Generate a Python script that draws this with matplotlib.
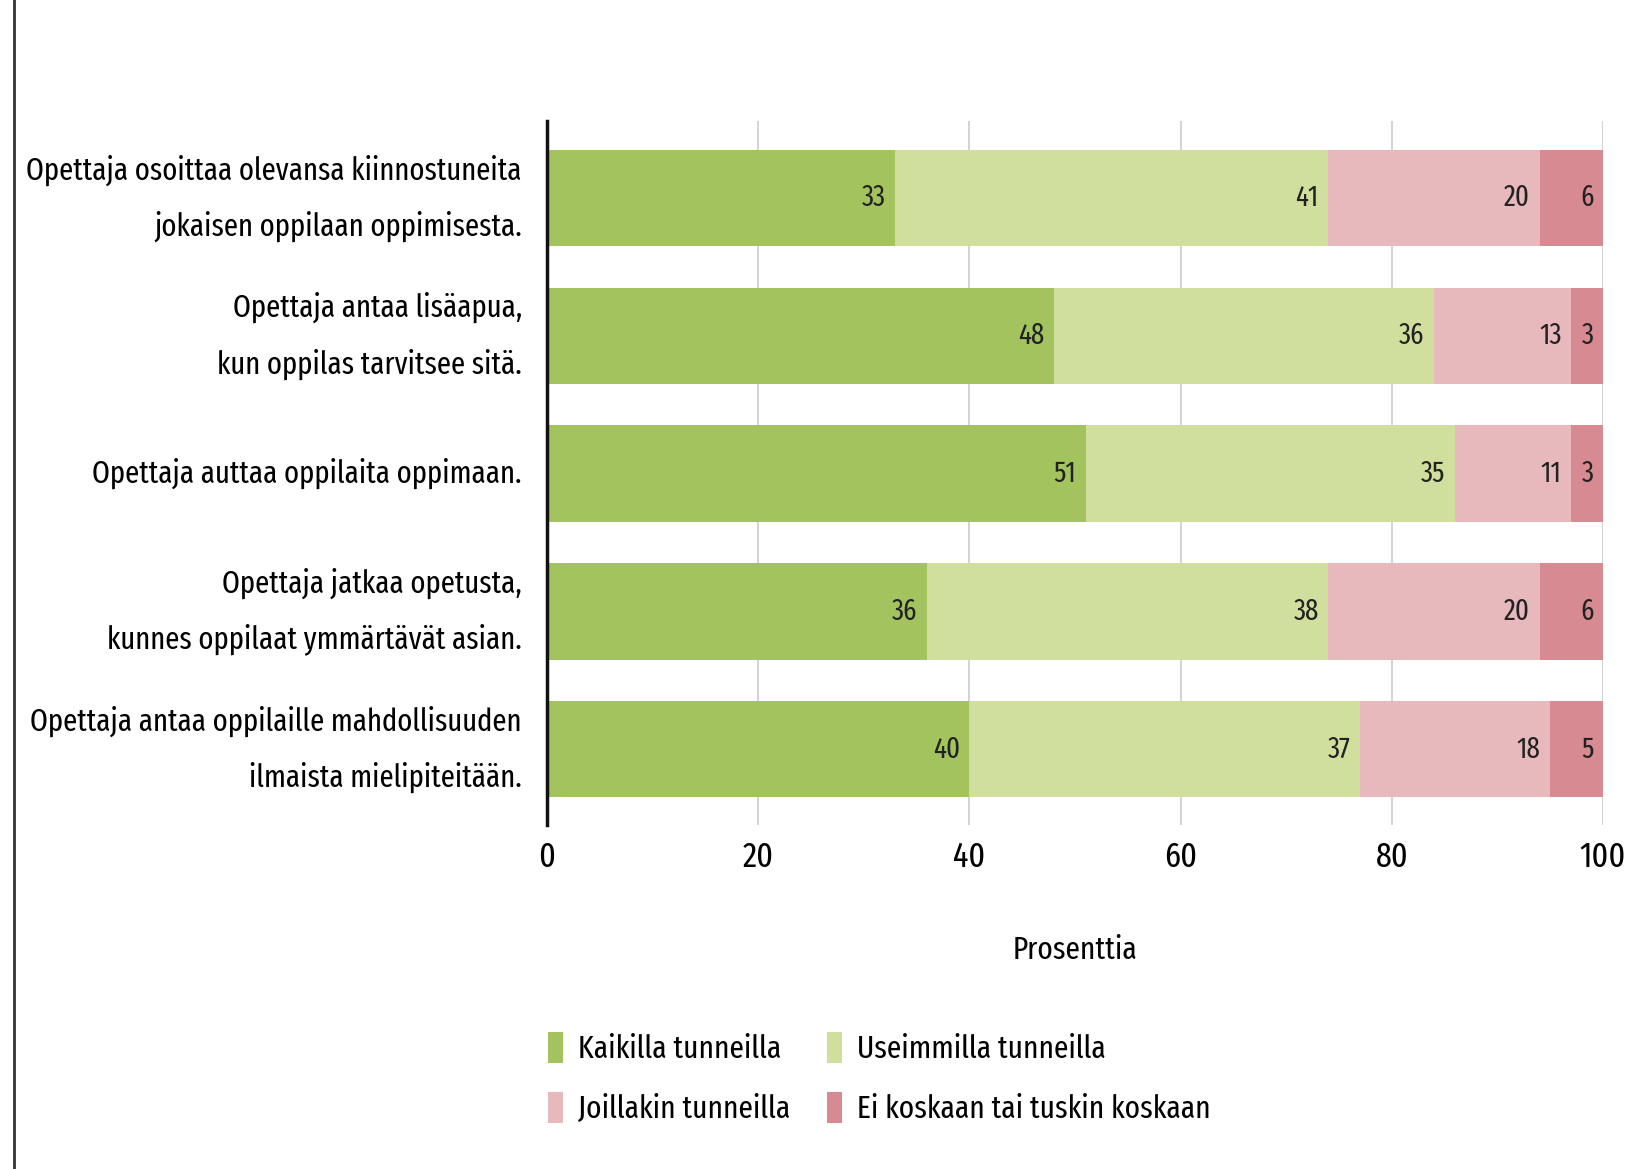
import matplotlib
matplotlib.use("Agg")
import matplotlib.pyplot as plt
from matplotlib.lines import Line2D
import numpy as np

plt.rcParams['font.family'] = ['Fira Sans Extra Condensed', 'DejaVu Sans']
plt.rcParams['font.stretch'] = 'condensed'

categories = [
    "Opettaja osoittaa olevansa kiinnostuneita\njokaisen oppilaan oppimisesta.",
    "Opettaja antaa lisäapua,\nkun oppilas tarvitsee sitä.",
    "Opettaja auttaa oppilaita oppimaan.",
    "Opettaja jatkaa opetusta,\nkunnes oppilaat ymmärtävät asian.",
    "Opettaja antaa oppilaille mahdollisuuden\nilmaista mielipiteitään.",
]
series_names = ["Kaikilla tunneilla", "Useimmilla tunneilla",
                "Joillakin tunneilla", "Ei koskaan tai tuskin koskaan"]
kaikilla = [33, 48, 51, 36, 40]
useimmilla = [41, 36, 35, 38, 37]
joillakin = [20, 13, 11, 20, 18]
ei_koskaan = [6, 3, 3, 6, 5]
series = [kaikilla, useimmilla, joillakin, ei_koskaan]
colors = ["#A3C35F", "#D0DF9E", "#E8B9BC", "#D78A92"]
xticks = [0, 20, 40, 60, 80, 100]
xlabel = "Prosenttia"

fig = plt.figure(figsize=(16.47, 11.69), dpi=100)
ax = fig.add_axes([0.3321, 0.2943, 0.9733 - 0.3321, 0.8965 - 0.2943])

y = np.arange(len(categories))
left = np.zeros(len(categories))
handles = []
for vals, col, name in zip(series, colors, series_names):
    vals = np.array(vals, dtype=float)
    bars = ax.barh(y, vals, left=left, height=0.70, color=col, label=name,
                   edgecolor='none', zorder=2)
    handles.append(bars)
    for yi, l, v in zip(y, left, vals):
        ax.text(l + v - 0.9, yi, f"{int(v)}", ha='right', va='center',
                fontsize=21, color='#222222', zorder=3)
    left += vals

ax.set_xlim(0, 100)
ax.set_ylim(4.55, -0.56)
ax.set_yticks(y)
ax.set_yticklabels(categories, fontsize=22.5, linespacing=2.0)
for lab in ax.get_yticklabels():
    lab.set_verticalalignment('center')
ax.set_xticks(xticks)
ax.set_xticklabels([str(t) for t in xticks], fontsize=25)
ax.tick_params(axis='both', length=0)
ax.tick_params(axis='y', pad=18)
ax.tick_params(axis='x', pad=11)
ax.xaxis.grid(True, color='#CCCCCC', linewidth=1.2, zorder=0)
ax.set_axisbelow(True)
for s in ['top', 'right', 'bottom']:
    ax.spines[s].set_visible(False)
ax.spines['left'].set_linewidth(2.5)
ax.spines['left'].set_color('#111111')
ax.set_xlabel(xlabel, fontsize=23, labelpad=44)

order = [0, 2, 1, 3]
leg = fig.legend(handles=[handles[i] for i in order], loc='upper left',
                 bbox_to_anchor=(0.3327, 0.117), borderaxespad=0, borderpad=0,
                 ncol=2, frameon=False, fontsize=23, handlelength=0.47,
                 handleheight=1.1, columnspacing=1.15, handletextpad=0.47,
                 labelspacing=0.85)

fig.add_artist(Line2D([0.0082, 0.0082], [0, 1], transform=fig.transFigure,
                      color='#333333', linewidth=2))

fig.savefig("out.png", dpi=100, facecolor='white')
